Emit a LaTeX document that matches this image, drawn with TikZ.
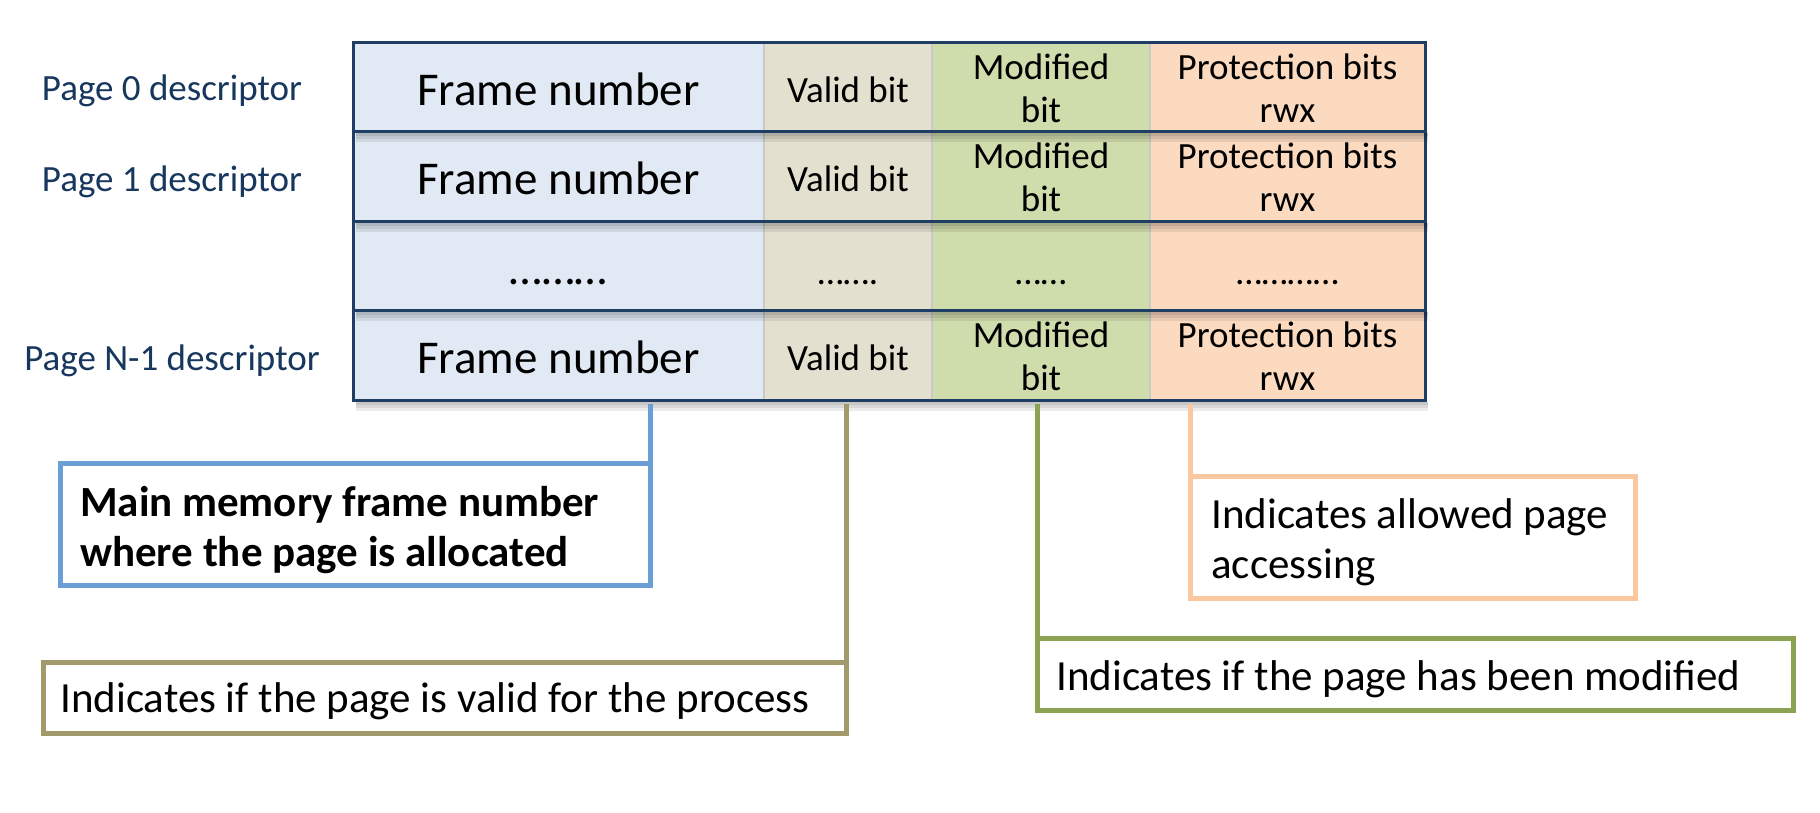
\documentclass[tikz,border=0pt]{standalone}
\usepackage{fontspec}
\setmainfont{Carlito}
\usetikzlibrary{calc}
\definecolor{framefill}{HTML}{E1E9F4}
\definecolor{validfill}{HTML}{E3E0CF}
\definecolor{modfill}{HTML}{CFDCAC}
\definecolor{protfill}{HTML}{FBDAC0}
\definecolor{rowline}{HTML}{1F3E64}
\definecolor{labelblue}{HTML}{17375E}
\definecolor{cblue}{HTML}{6A9FD5}
\definecolor{colive}{HTML}{A29A6A}
\definecolor{cgreen}{HTML}{8BA253}
\definecolor{corange}{HTML}{FAC79F}
\definecolor{divider}{HTML}{C9C9C9}
\begin{document}
\begin{tikzpicture}[x=1pt,y=-1pt,
  cell/.style={rectangle, inner sep=0pt, outer sep=0pt, minimum height=89.5pt, draw=none, anchor=north west},
  big/.style={font=\fontsize{47}{56}\selectfont, anchor=base, inner sep=0pt},
  small/.style={font=\fontsize{37}{44}\selectfont, anchor=base, inner sep=0pt},
  plabel/.style={font=\fontsize{37}{44}\selectfont, text=labelblue, anchor=base, inner sep=0pt},
  callout/.style={rectangle, line width=5pt, fill=white, anchor=north west, inner sep=0pt, outer sep=0pt},
  ctext/.style={font=\fontsize{43}{51}\selectfont, anchor=base west, inner sep=0pt},
  conn/.style={line width=5pt, line cap=rect},
]
\useasboundingbox (0,0) rectangle (1820,812);
\fill[white] (0,0) rectangle (1820,812);

% table rows (drawn bottom-up so each shadow falls on the row below)
\foreach \r/\T in {3/310.5,2/221,1/131.5,0/42}{
  \node[cell, fill=framefill, minimum width=411pt] (f\r) at (353,\T) {};
  \node[cell, fill=validfill, minimum width=168pt] (v\r) at (764,\T) {};
  \node[cell, fill=modfill, minimum width=218pt] (m\r) at (932,\T) {};
  \node[cell, fill=protfill, minimum width=275pt] (p\r) at (1150,\T) {};
  \draw[divider, line width=2pt] (v\r.north west) -- (v\r.south west)
        (m\r.north west) -- (m\r.south west) (p\r.north west) -- (p\r.south west);
  \draw[rowline, line width=3pt] (f\r.north west) rectangle (p\r.south east);
  \foreach \d in {3,6,9}{
    \fill[black, opacity=0.08] ($(f\r.south west)+(3,1.5)$) rectangle ($(p\r.south east)+(3,1.5+\d)$);
  }
}

% row texts
\foreach \r/\T in {0/42,1/131.5,3/310.5}{
  \node[big] (tf\r) at (558.5,\T+63) {Frame number};
  \node[small] (tv\r) at (848,\T+60) {Valid bit};
  \node[small] (tma\r) at (1041,\T+37) {Modified};
  \node[small] (tmb\r) at (1041,\T+80) {bit};
  \node[small] (tpa\r) at (1287.5,\T+37) {Protection bits};
  \node[small] (tpb\r) at (1287.5,\T+80) {rwx};
}
\node[big] (tf2) at (558.5,284) {………};
\node[small] (tv2) at (848,284) {…….};
\node[small] (tm2) at (1041,284) {……};
\node[small] (tp2) at (1287.5,284) {…………};

% row labels
\node[plabel] (lab0) at (172,100) {Page 0 descriptor};
\node[plabel] (lab1) at (172,191) {Page 1 descriptor};
\node[plabel] (lab3) at (172,370) {Page N-1 descriptor};

% callout boxes
\node[callout, draw=cblue, minimum width=590pt, minimum height=122pt] (bluebox) at (60,463) {};
\node[ctext, font=\fontsize{43}{51}\selectfont\bfseries] (bluet1) at (80,516) {Main memory frame number};
\node[ctext, font=\fontsize{43}{51}\selectfont\bfseries] (bluet2) at (80,566) {where the page is allocated};

\node[callout, draw=colive, minimum width=803pt, minimum height=71pt] (olivebox) at (43,662) {};
\node[ctext] (olivet) at (60,712) {Indicates if the page is valid for the process};

\node[callout, draw=cgreen, minimum width=756pt, minimum height=72pt] (greenbox) at (1037,638) {};
\node[ctext] (greent) at (1056,690) {Indicates if the page has been modified};

\node[callout, draw=corange, minimum width=445pt, minimum height=122pt] (orangebox) at (1190,476) {};
\node[ctext] (oranget1) at (1211,528) {Indicates allowed page};
\node[ctext] (oranget2) at (1211,578) {accessing};

% connectors
\draw[conn, cblue, shorten <=6pt] (bluebox.north east |- f3.south) -- (bluebox.south east);
\draw[conn, colive, shorten <=6pt] (olivebox.north east |- v3.south) -- (olivebox.south east);
\draw[conn, cgreen, shorten <=6pt] (greenbox.north west |- m3.south) -- (greenbox.north west);
\draw[conn, corange, shorten <=6pt] (orangebox.north west |- p3.south) -- (orangebox.north west);
\end{tikzpicture}
\end{document}
